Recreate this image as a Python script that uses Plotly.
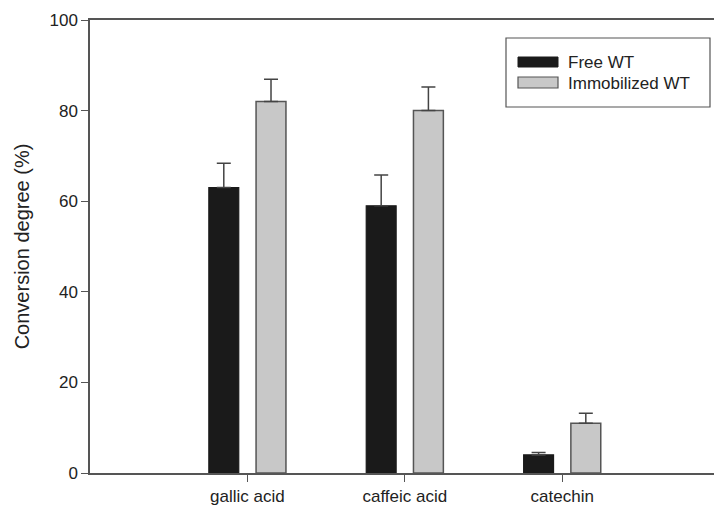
import plotly.graph_objects as go

categories = ["gallic acid", "caffeic acid", "catechin"]
series_names = ["Free WT", "Immobilized WT"]
free_wt = [63, 59, 4]
free_wt_err = [5.4, 6.8, 0.5]
immob_wt = [82, 80, 11]
immob_wt_err = [4.9, 5.2, 2.2]
y_ticks = [0, 20, 40, 60, 80, 100]

W, H = 714, 508
ML, MR, MT, MB = 90, 0, 20, 35
PW, PH = W - ML - MR, H - MT - MB

FONT = "Liberation Sans, Arial, sans-serif"
TXT = "#222222"
AX = "#555555"
BLACK = "#1a1a1a"
GRAY = "#c8c8c8"
BAR_W = 0.19


def px(x):
    return (x - ML) / PW


def py(y):
    return (H - MB - y) / PH


fig = go.Figure()
fig.add_trace(go.Bar(
    x=categories, y=free_wt, name=series_names[0],
    width=BAR_W, offset=-0.245,
    marker=dict(color=BLACK, line=dict(color=BLACK, width=1.2)),
    error_y=dict(type="data", symmetric=False, array=free_wt_err,
                 arrayminus=[0] * len(free_wt_err),
                 color="#444444", thickness=1.5, width=7),
))
fig.add_trace(go.Bar(
    x=categories, y=immob_wt, name=series_names[1],
    width=BAR_W, offset=0.055,
    marker=dict(color=GRAY, line=dict(color=AX, width=1.5)),
    error_y=dict(type="data", symmetric=False, array=immob_wt_err,
                 arrayminus=[0] * len(immob_wt_err),
                 color="#444444", thickness=1.5, width=7),
))

# custom legend (box with wide swatches)
shapes = [
    dict(type="rect", xref="paper", yref="paper",
         x0=px(506), x1=px(710), y0=py(107), y1=py(38),
         line=dict(color=AX, width=1.2), fillcolor="white", layer="above"),
    dict(type="rect", xref="paper", yref="paper",
         x0=px(518), x1=px(558), y0=py(67), y1=py(57),
         line=dict(color=BLACK, width=1), fillcolor=BLACK, layer="above"),
    dict(type="rect", xref="paper", yref="paper",
         x0=px(518), x1=px(558), y0=py(88), y1=py(77),
         line=dict(color=AX, width=1.2), fillcolor=GRAY, layer="above"),
]
annotations = [
    dict(xref="paper", yref="paper", x=px(566), y=py(62), text=series_names[0],
         showarrow=False, xanchor="left", yanchor="middle",
         font=dict(family=FONT, size=17, color=TXT)),
    dict(xref="paper", yref="paper", x=px(566), y=py(83), text=series_names[1],
         showarrow=False, xanchor="left", yanchor="middle",
         font=dict(family=FONT, size=17, color=TXT)),
]

fig.update_layout(
    width=W, height=H,
    margin=dict(l=ML, r=MR, t=MT, b=MB, pad=0),
    paper_bgcolor="white", plot_bgcolor="white",
    barmode="overlay",
    showlegend=False,
    shapes=shapes, annotations=annotations,
    font=dict(family=FONT, size=17, color=TXT),
)
fig.update_xaxes(
    type="category", categoryorder="array", categoryarray=categories,
    range=[-1, -1 + PW / 157.4],
    showline=True, linecolor=AX, linewidth=1.5, mirror=True,
    ticks="outside", ticklen=7, tickcolor=AX, tickwidth=1.2,
    showgrid=False, zeroline=False,
    tickfont=dict(family=FONT, size=17, color=TXT),
)
fig.update_yaxes(
    range=[0, 100], tickvals=y_ticks,
    showline=True, linecolor=AX, linewidth=1.5, mirror=False,
    ticks="outside", ticklen=7, tickcolor=AX, tickwidth=1.2,
    showgrid=False, zeroline=False,
    tickfont=dict(family=FONT, size=17, color=TXT),
    title=dict(text="Conversion degree (%)", standoff=14,
               font=dict(family=FONT, size=20, color=TXT)),
)

fig.write_html("out.html")
